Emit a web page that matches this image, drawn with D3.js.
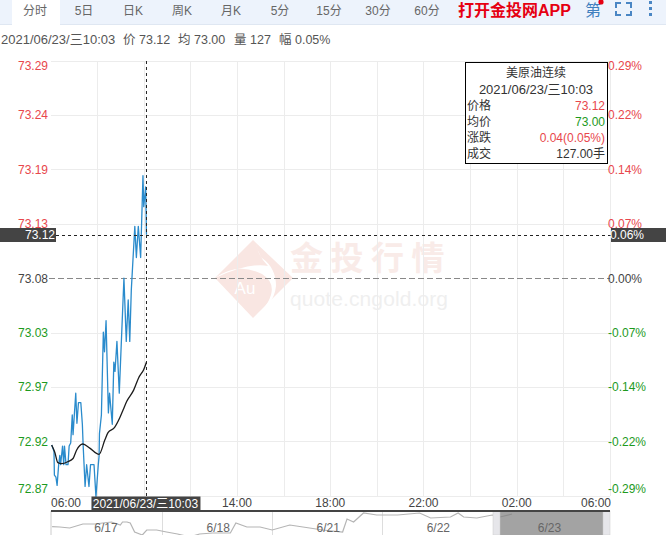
<!DOCTYPE html>
<html><head><meta charset="utf-8">
<script src="https://cdn.jsdelivr.net/npm/d3@7/dist/d3.min.js"></script>
<style>html,body{margin:0;padding:0;background:#fff;overflow:hidden}svg{display:block}
text{font-family:"Liberation Sans","Noto Sans CJK SC",sans-serif}</style></head><body>
<svg id="c" width="666" height="535"></svg>
<script>
const tabs = ["分时","5日","日K","周K","月K","5分","15分","30分","60分"];
const yTicks = [73.29,73.2375,73.185,73.1325,73.08,73.0275,72.975,72.9225,72.87];
const yLabels = ["73.29","73.24","73.19","73.13","73.08","73.03","72.97","72.92","72.87"];
const pctLabels = ["0.29%","0.22%","0.14%","0.07%","0.00%","-0.07%","-0.14%","-0.22%","-0.29%"];
const gridMinutes = [120,240,360,480,600,720,840,960,1080,1200,1320,1440];
const timeTicks = [[480,"14:00"],[720,"18:00"],[960,"22:00"],[1200,"02:00"]];
const priceMin = [3,9,10,14,17,21,24,26,31,34,36,40,45,48,52,56,58,65,68,72,78,82,84,89,93,99,103,112,117,123,125,126,131,136,139,143,149,152,159,163,166,171,177,189,195,200,204,208,217,221,226,232,238,240,245,247];
const priceVal = [72.919,72.913,72.890,72.888,72.880,72.900,72.909,72.900,72.918,72.900,72.918,72.900,72.900,72.918,72.921,72.948,72.929,72.969,72.940,72.960,72.960,72.939,72.919,72.879,72.900,72.879,72.900,72.900,72.869,72.900,72.908,72.930,72.948,73.028,73.009,73.039,72.950,72.969,72.939,72.999,72.990,73.019,72.969,73.080,73.019,73.059,73.019,73.069,73.130,73.100,73.130,73.100,73.179,73.149,73.168,73.122];
const avgMin = [3,11,19,29,45,58,67,83,101,125,140,148,165,178,187,196,214,227,240,247];
const avgVal = [72.919,72.912,72.902,72.901,72.903,72.906,72.914,72.920,72.916,72.910,72.924,72.931,72.936,72.945,72.953,72.961,72.972,72.984,72.992,72.999];
const miniT = [.01,.08,.17,.29,.40,.47,.55,.63,.65,.69,.72,.76,.83,.87,.96,1.05,1.15,1.26,1.35,1.47,1.63,1.68,1.78,1.90,2.01,2.17,2.35,2.47,2.65,2.69,2.75,2.84,2.96,3.15,3.35,3.45,3.63,3.70,3.75,3.87,4.01,4.08,4.19];
const miniV = [71.93,71.9,71.8,72.2,72.2,72.3,72.4,72.1,72.4,72.4,72.3,71.4,71.1,71.6,71.6,71.4,71.2,70.9,71.2,71.3,71.3,72.3,71.9,71.9,71.6,72.1,71.8,71.6,71.4,72.7,72.4,73.3,73.1,73.1,73.3,72.8,72.9,73.3,72.9,72.8,73.1,72.9,73.2];
const miniDays = [[.5,"6/17"],[1.52,"6/18"],[2.52,"6/21"],[3.52,"6/22"],[4.53,"6/23"]];
const infoParts = [[1,"2021/06/23/三10:03",13],[123,"价 73.12",12.5],[178,"均 73.00",12.5],[234,"量 127",12.5],[279,"幅 0.05%",12.5]];
const tipRows = [["价格","73.12","#e8474c"],["均价","73.00","#1d9a1d"],["涨跌","0.04(0.05%)","#e8474c"],["成交","127.00手","#333"]];
const crossMin = 247, crossPrice = 73.122;

const RED="#e8474c",GREEN="#1d9a1d",DARK="#444";
const svg=d3.select("#c");
const x=d3.scaleLinear().domain([0,1440]).range([50.5,610]);
const y=d3.scaleLinear().domain([72.87,73.29]).range([495.8,60.6]);
const mx=d3.scaleLinear().domain([0,5.08]).range([51,610]);
const my=d3.scaleLinear().domain([73.4,71.0]).range([512,536]);
const T=(g,xx,yy,s,o={})=>g.append("text").attr("x",xx).attr("y",yy).attr("dy","0.36em").text(s)
  .attr("font-size",o.size||12).attr("fill",o.fill||"#555").attr("text-anchor",o.anchor||"start")
  .attr("font-weight",o.weight||null).attr("letter-spacing",o.ls||null);

// header
svg.append("rect").attr("width",666).attr("height",24).attr("fill","#edf3fc");
svg.append("rect").attr("y",24).attr("width",666).attr("height",1).attr("fill","#dfe7f2");
svg.append("rect").attr("x",12).attr("width",48).attr("height",25).attr("fill","#fff");
const tabX=d3.scalePoint().domain(tabs).range([35,427]);
tabs.forEach(t=>T(svg,tabX(t),11,t,{anchor:"middle",fill:"#666"}));
T(svg,458,10,"打开金投网APP",{size:16,fill:"#e60012",weight:700});
T(svg,593,10.5,"第",{size:16,fill:"#3f7fbf",anchor:"middle"});
svg.append("circle").attr("cx",601).attr("cy",2).attr("r",2.6).attr("fill","#e60012");
const ic=svg.append("path").attr("fill","none").attr("stroke","#4a86c4").attr("stroke-width",2);
ic.attr("d","M616 8V3H621M626 3H631V8M631 11V15H626M621 15H616V11");
[2,8,14].forEach(d=>svg.append("rect").attr("x",649).attr("y",d-1).attr("width",3).attr("height",3).attr("fill","#4a86c4"));
infoParts.forEach(p=>T(svg,p[0],39,p[1],{fill:"#555",size:p[2]}));

// watermark
const wm=svg.append("g");
wm.append("path").attr("fill","#f9e6e2").attr("d","M253 240L293 278L253 318L215 278Z");
wm.append("path").attr("fill","#fff").attr("d","M215 278Q238 262 262 274Q278 284 268 302Q262 312 253 316Q274 306 276 286Q276 268 262 258Q258 254 256 243Q258 256 268 266Q250 262 215 278Z");
T(wm,245,288,"Au",{size:17,fill:"#fff",anchor:"middle"});
T(wm,290,258,"金投行情",{size:33,fill:"#f9ebe8",weight:700,ls:"7.5px"});
T(wm,290,298,"quote.cngold.org",{size:21,fill:"#efefef",ls:"0.1px"});

// grid
const grid=svg.append("g").attr("stroke","#ececec").attr("stroke-width",1).attr("shape-rendering","crispEdges");
grid.selectAll(".h").data(yTicks.filter(v=>v!==73.08)).join("line")
  .attr("x1",x(0)).attr("x2",610).attr("y1",d=>Math.round(y(d))).attr("y2",d=>Math.round(y(d)));
grid.selectAll(".v").data(gridMinutes).join("line")
  .attr("x1",d=>Math.round(x(d))).attr("x2",d=>Math.round(x(d))).attr("y1",61).attr("y2",496);
svg.append("line").attr("x1",49).attr("x2",610).attr("y1",Math.round(y(73.08))+.5).attr("y2",Math.round(y(73.08))+.5)
  .attr("stroke","#888").attr("stroke-dasharray","6 3");

// series
const line=d3.line().x(d=>x(d[0])).y(d=>y(d[1]));
svg.append("path").attr("fill","none").attr("stroke","#2a8bcc").attr("stroke-width",1.3).attr("stroke-linejoin","round")
  .attr("d",line(d3.zip(priceMin,priceVal)));
svg.append("path").attr("fill","none").attr("stroke","#1c1c1c").attr("stroke-width",1.3)
  .attr("d",line.curve(d3.curveMonotoneX)(d3.zip(avgMin,avgVal)));

// crosshair
svg.append("line").attr("x1",56).attr("x2",611).attr("y1",Math.round(y(crossPrice))+.5).attr("y2",Math.round(y(crossPrice))+.5)
  .attr("stroke","#222").attr("stroke-dasharray","3 3");
svg.append("line").attr("x1",x(crossMin)).attr("x2",x(crossMin)).attr("y1",61).attr("y2",496)
  .attr("stroke","#222").attr("stroke-dasharray","3 3");

// y labels
const colorAt=i=>i<4?RED:i===4?"#444":GREEN;
yTicks.forEach((v,i)=>{
  const yy=Math.max(66,Math.min(489,y(v)));
  T(svg,48,yy,yLabels[i],{anchor:"end",fill:colorAt(i)});
  T(svg,608,yy,pctLabels[i],{fill:colorAt(i)});
});
const cy=Math.round(y(crossPrice));
svg.append("rect").attr("x",0).attr("y",cy-7).attr("width",56).attr("height",14).attr("fill",DARK);
T(svg,55,cy,"73.12",{anchor:"end",fill:"#fff"});
svg.append("rect").attr("x",611).attr("y",cy-7).attr("width",55).attr("height",14).attr("fill",DARK);
T(svg,610,cy,"0.06%",{fill:"#fff"});

// x labels
T(svg,51,503,"06:00",{fill:"#444"});
timeTicks.forEach(t=>T(svg,x(t[0]),503,t[1],{anchor:"middle",fill:"#444"}));
T(svg,611,503,"06:00",{anchor:"end",fill:"#444"});
svg.append("rect").attr("x",x(crossMin)-55).attr("y",496.5).attr("width",109).attr("height",14).attr("fill",DARK);
T(svg,x(crossMin)-1,503.5,"2021/06/23/三10:03",{anchor:"middle",fill:"#fff"});

// tooltip
svg.append("rect").attr("x",465.5).attr("y",62.5).attr("width",142).attr("height",101).attr("fill","#fff").attr("stroke","#000");
T(svg,536,73,"美原油连续",{anchor:"middle",fill:"#333"});
T(svg,536,89.5,"2021/06/23/三10:03",{anchor:"middle",fill:"#333",size:13});
tipRows.forEach((r,i)=>{T(svg,467,106+i*16,r[0],{fill:"#333"});T(svg,605,106+i*16,r[1],{anchor:"end",fill:r[2]});});

// navigator
const nav=svg.append("g");
nav.append("line").attr("x1",51).attr("x2",51).attr("y1",511).attr("y2",535).attr("stroke","#ccc");
[1,2,3].forEach(t=>nav.append("line").attr("x1",Math.round(mx(t+.006))+.5).attr("x2",Math.round(mx(t+.006))+.5).attr("y1",511).attr("y2",535).attr("stroke","#ddd"));
nav.append("path").attr("fill","none").attr("stroke","#b5b5b5").attr("stroke-width",1.2)
  .attr("d",d3.line().x(d=>mx(d[0])).y(d=>my(d[1]))(d3.zip(miniT,miniV)));
nav.append("rect").attr("x",499).attr("y",512).attr("width",104).attr("height",23).attr("fill","#808080").attr("opacity",.72);
nav.append("rect").attr("x",493).attr("y",511).attr("width",7).attr("height",24).attr("fill","#e6e6ea").attr("stroke","#ccc").attr("stroke-width",.5);
nav.append("rect").attr("x",603).attr("y",511).attr("width",7).attr("height",24).attr("fill","#e6e6ea").attr("stroke","#ccc").attr("stroke-width",.5);
nav.append("rect").attr("x",51).attr("y",510).attr("width",559).attr("height",2).attr("fill","#444");
miniDays.forEach(d=>T(nav,mx(d[0]),527.5,d[1],{anchor:"middle",fill:"#666"}));
</script></body></html>
